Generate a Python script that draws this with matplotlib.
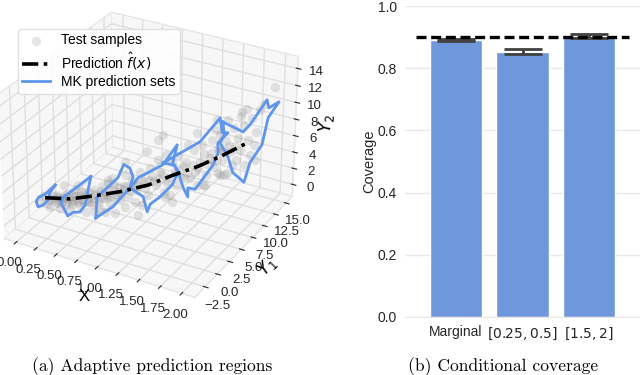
import matplotlib
matplotlib.use('Agg')
import numpy as np
from matplotlib import pyplot as plt

plt.rcParams['font.family'] = ['Liberation Sans', 'DejaVu Sans']
plt.rcParams['mathtext.fontset'] = 'dejavusans'

# prediction curve
curve_x = [0, 0.25, 0.5, 0.76, 1.02, 1.27, 1.51, 1.75, 2]
curve_y1 = [0.9, 1.9, 3.0, 4.0, 5.1, 6.0, 6.9, 7.7, 8.4]
curve_y2 = [0.9, 0.9, 1.4, 2.1, 3.0, 4.4, 5.6, 7.1, 8.9]

# prediction sets, one outline per x slice
set_x = [0.0, 0.27, 0.65, 1.05, 1.5, 1.98]
set_y1 = [
    [2.8, 0.9, -0.2, -0.7, -0.4, 0.5, 1.4, 1.8],
    [5.6, 0.3, -0.1, 1.1, 2.1, 3.4, 4.4, 5.0],
    [0.7, 1.0, 2.5, 5.0, 6.2, 7.4, 8.0, 7.4, 4.0],
    [1.1, 2.6, 7.6, 10.5, 9.6, 10.7, 9.5, 7.0, 5.0, 4.4, 3.6],
    [0.1, 7.5, 11.7, 12.2, 13.5, 11.3, 11.4, 10.3, 6.6, 5.1, 5.1, 4.1, 3.1, 2.4],
    [3.6, 7.9, 9.4, 13.0, 13.5, 15.8, 13.4, 12.2, 9.6, 8.4, 5.9, 4.8, 3.1, 3.9],
]
set_y2 = [
    [1.4, 1.3, 1.6, 1.3, 0.5, 0.2, 0.3, 1.0],
    [1.7, 2.0, 1.6, -0.7, -0.8, -1.5, -1.2, 0.3],
    [0.4, 2.8, 2.8, 2.9, 3.9, 2.8, 1.4, 0.4, -0.1],
    [4.9, 5.3, 4.2, 5.1, 3.4, 1.6, 0.7, 0.6, 0.8, 0.2, 2.5],
    [9.6, 8.2, 8.9, 6.9, 6.2, 6.1, 4.8, 3.9, 3.0, 4.0, 2.9, 4.6, 7.0, 8.1],
    [13.7, 10.4, 10.5, 11.6, 10.4, 10.0, 9.3, 6.7, 5.9, 4.2, 6.7, 9.1, 11.6, 12.1],
]

# test samples
sample_x = [
    0.00, 0.00, 0.03, 0.07, 0.11, 0.05, 0.13, 0.17, 0.15, 0.21, 0.23, 0.27, 0.31, 0.35, 0.39, 0.25, 0.33, 0.43, 0.47, 0.41,
    0.30, 0.37, 0.49, 0.52, 0.56, 0.60, 0.64, 0.68, 0.72, 0.54, 0.62, 0.74, 0.50, 0.66, 0.78, 0.82, 0.86, 0.90, 0.94, 0.98,
    1.02, 0.80, 1.06, 0.89, 0.96, 1.04, 1.10, 1.14, 1.18, 1.22, 1.26, 1.30, 1.34, 1.12, 1.24, 1.32, 1.20, 1.38, 1.40, 1.44,
    1.48, 1.51, 1.55, 1.59, 1.63, 1.42, 1.50, 1.65, 1.57, 1.67, 1.71, 1.75, 1.79, 1.83, 1.87, 1.69, 1.77, 1.85, 1.91, 1.73,
    1.81, 1.93, 1.97, 2.00, 2.00, 2.00, 2.00, 2.00, 2.00, 1.98, 1.89, 1.95, 2.00, 2.00, 2.00, 1.94, 1.70, 1.17, 1.12, 1.01,
    0.79, 1.50, 0.19, 0.62, 0.79, 0.92, 0.69, 0.59, 1.19, 1.26, 1.56, 1.71, 2.00, 1.73, 1.58, 1.80,
    0.04, 0.08, 0.10, 0.12, 0.14, 0.16, 0.18, 0.20, 0.22, 0.24, 0.26, 0.28, 0.29, 0.32, 0.34, 0.36, 0.38, 0.40, 0.42, 0.44,
    0.46, 0.48, 0.51, 0.53, 0.55, 0.57, 0.58, 0.61, 0.63, 0.65, 0.67, 0.70, 0.73, 0.75, 0.77, 0.81, 0.84, 0.87, 0.91, 0.95,
    0.99, 1.03, 1.08, 1.13, 1.16, 1.21, 1.28, 1.33, 1.37, 1.41, 1.46, 1.49, 1.53, 1.60, 1.64, 1.68, 1.72, 1.76, 1.82, 1.88,
]
sample_y1 = [
    0.0, 0.7, 1.0, 1.2, 1.4, 1.0, 1.4, 1.6, 1.5, 1.7, 1.9, 2.0, 2.2, 2.3, 2.5, 1.9, 2.3, 2.6, 2.8, 2.5,
    2.2, 2.4, 2.9, 3.1, 3.3, 3.4, 3.5, 3.7, 3.9, 3.1, 3.5, 3.9, 2.9, 3.7, 4.1, 4.3, 4.4, 4.6, 4.8, 4.9,
    5.1, 4.2, 5.2, 4.5, 4.8, 5.1, 5.4, 5.5, 5.7, 5.8, 5.9, 6.1, 6.2, 5.4, 5.9, 6.1, 5.7, 6.4, 6.4, 6.6,
    6.7, 6.9, 7.0, 7.2, 7.3, 6.5, 6.9, 7.3, 7.1, 7.5, 7.5, 7.7, 7.7, 7.9, 7.9, 7.4, 7.8, 8.1, 8.1, 7.5,
    7.7, 8.3, 8.2, 8.6, 9.4, 10.4, 11.1, 9.2, 12.0, 8.5, 8.2, 8.1, 10.0, 14.3, 8.2, 8.1, 7.4, 5.6, 5.4, 5.0,
    4.2, 6.8, 1.7, 3.5, 4.1, 4.6, 3.7, 3.3, 5.7, 6.0, 7.1, 7.6, 10.3, 7.7, 7.2, 7.9,
    1.0, 1.3, 1.4, 1.5, 1.5, 1.6, 1.7, 1.7, 1.8, 1.9, 2.0, 2.1, 2.1, 2.3, 2.4, 2.4, 2.5, 2.6, 2.7, 2.7,
    2.8, 2.9, 3.0, 3.1, 3.2, 3.3, 3.3, 3.5, 3.5, 3.6, 3.7, 3.8, 3.9, 4.0, 4.1, 4.2, 4.4, 4.5, 4.6, 4.8,
    5.0, 5.1, 5.3, 5.5, 5.6, 5.8, 6.1, 6.3, 6.4, 6.5, 6.7, 6.8, 7.0, 7.2, 7.3, 7.4, 7.6, 7.7, 7.9, 8.1,
]
sample_y2 = [
    1.1, 1.2, 0.3, 0.8, 1.3, -0.1, 0.3, 1.1, -0.3, 0.1, 1.6, 0.6, 1.3, 0.2, 1.8, -0.3, 2.6, 1.0, 0.3, -0.6,
    2.0, 0.8, 2.1, 0.9, 2.6, 1.6, 0.6, 2.9, 2.0, -0.2, 3.0, 1.0, -0.6, 3.6, 2.8, 1.6, 3.5, 2.3, 4.5, 3.2,
    1.8, 4.1, 4.1, 0.9, 0.6, 5.1, 3.1, 4.7, 2.3, 4.0, 6.0, 3.2, 5.1, 6.1, 2.0, 6.8, 6.8, 4.1, 6.1, 4.2,
    7.6, 5.4, 8.2, 4.7, 6.7, 8.1, 3.4, 8.9, 7.1, 5.6, 8.0, 6.6, 9.0, 7.6, 10.6, 10.1, 4.8, 6.1, 9.4, 9.6,
    11.4, 8.0, 11.0, 9.1, 11.3, 9.2, 11.4, 7.1, 11.6, 6.2, 6.7, 12.5, 7.8, 12.5, 12.9, 12.0, 11.3, 9.1, 8.5, 7.1,
    5.6, 9.6, 2.5, 3.4, 0.2, -0.7, -0.6, -0.5, 1.7, 1.1, 3.4, 5.0, 5.9, 4.8, 3.4, 5.1,
    0.7, 1.1, 0.5, 1.0, 0.7, 0.4, 0.9, 1.3, 0.5, 1.0, 0.2, 1.4, 0.8, 0.5, 1.2, 1.7, 0.5, 1.4, 0.6, 1.9,
    1.2, 0.8, 1.6, 0.6, 2.0, 1.1, 1.8, 1.2, 2.2, 1.4, 2.3, 1.5, 2.6, 1.7, 2.2, 2.8, 2.1, 3.0, 2.8, 3.6,
    2.6, 3.6, 3.5, 3.8, 4.4, 3.4, 4.8, 4.2, 5.6, 4.8, 5.8, 5.0, 6.2, 6.0, 7.4, 6.4, 7.6, 7.8, 8.3, 8.4,
]

labels = ['Marginal', '$[0.25, 0.5]$', '$[1.5, 2]$']
coverage = [0.89, 0.853, 0.904]
coverage_err = [0.004, 0.008, 0.007]

fig = plt.figure(figsize=(6.4, 3.75), dpi=100)

ax = fig.add_axes([-0.046, 0.146, 0.55, 0.896], projection='3d', computed_zorder=False)
ax.view_init(elev=29, azim=-60.8)
ax.scatter(sample_x, sample_y1, sample_y2, s=45, color='#7f7f7f', alpha=0.2, linewidths=0, depthshade=False, zorder=1, label='Test samples')
for i, x in enumerate(set_x):
    ys = set_y1[i] + set_y1[i][:1]
    zs = set_y2[i] + set_y2[i][:1]
    ax.plot([x] * len(ys), ys, zs, color='#5f96ec', lw=2, zorder=2, label='MK prediction sets' if i == 0 else None)
ax.plot(curve_x, curve_y1, curve_y2, color='black', lw=2.6, ls=(0, (4.5, 1.5, 1, 1.5)), zorder=3, label=r'Prediction $\hat{f}(x)$')
ax.set_xlim(-0.15, 2.15)
ax.set_ylim(-4.5, 16.5)
ax.set_zlim(-1.5, 15.4)
ax.set_xticks(np.arange(0, 2.01, 0.25))
ax.set_yticks(np.arange(-2.5, 15.1, 2.5))
ax.set_zticks(np.arange(0, 15, 2))
ax.set_xticklabels([f'{t:.2f}' for t in np.arange(0, 2.01, 0.25)])
ax.tick_params(labelsize=9.5, colors='#262626', pad=0)
ax.set_xlabel('X', fontsize=12, labelpad=-6)
ax.set_ylabel('$Y_1$', fontsize=12, labelpad=-7)
ax.set_zlabel('$Y_2$', fontsize=12, labelpad=-7)
for axis in (ax.xaxis, ax.yaxis, ax.zaxis):
    axis.set_pane_color('#f7f7f7')
    axis.pane.set_edgecolor('#e6e6e6')
    axis._axinfo['grid'].update(color='#dfdfdf', linewidth=1)
    axis.line.set_color('#e6e6e6')

handles, names = ax.get_legend_handles_labels()
order = [names.index(n) for n in ('Test samples', r'Prediction $\hat{f}(x)$', 'MK prediction sets')]
ax.legend([handles[i] for i in order], [names[i] for i in order], loc='upper left', bbox_to_anchor=(18 / 640, 1 - 29 / 375),
          bbox_transform=fig.transFigure, borderaxespad=0, borderpad=0.3, fontsize=10, labelspacing=0.25, edgecolor='#dcdcdc', framealpha=0.85)

ax2 = fig.add_axes([405 / 640, 1 - 317 / 375, 235 / 640, 311 / 375])
x_pos = np.arange(len(labels))
ax2.bar(x_pos, coverage, width=0.78, color='#6f97dc', edgecolor='white', zorder=2)
ax2.errorbar(x_pos, coverage, yerr=coverage_err, color='#424242', capsize=14, lw=2, capthick=2, ls='none', zorder=3)
ax2.hlines(0.9, -0.6, 2.6, color='black', ls=(0, (3, 1.4)), lw=2.4, zorder=4)
ax2.set_xlim(-0.76, 2.76)
ax2.set_ylim(0, 1)
ax2.set_xticks(x_pos, labels)
ax2.set_yticks(np.arange(0, 1.01, 0.2))
ax2.set_ylabel('Coverage', fontsize=10.5, color='#262626', labelpad=1)
ax2.tick_params(length=0, labelsize=10, colors='#262626', pad=6)
ax2.grid(axis='y', color='#e8e8e8', lw=1, zorder=0)
for name, spine in ax2.spines.items():
    spine.set_visible(name == 'bottom')
    spine.set_color('#e8e8e8')

fig.text(152 / 640, 1 - 367 / 375, '(a) Adaptive prediction regions', family='cmr10', fontsize=12.6, ha='center', va='center')
fig.text(503 / 640, 1 - 367 / 375, '(b) Conditional coverage', family='cmr10', fontsize=12.6, ha='center', va='center')

fig.savefig('out.png', dpi=100)
